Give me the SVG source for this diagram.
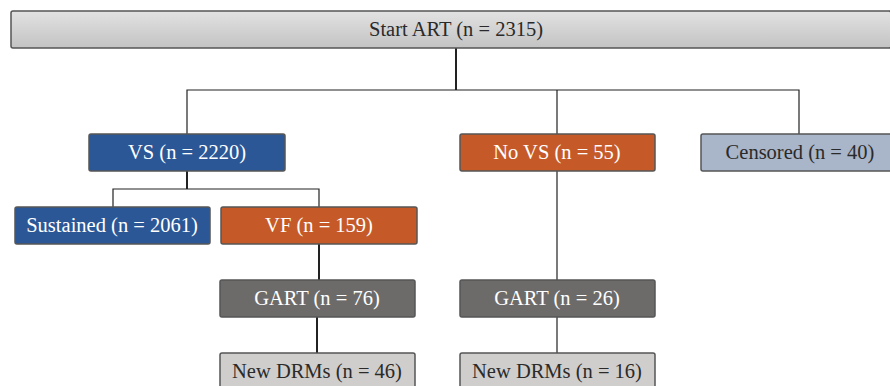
<svg xmlns="http://www.w3.org/2000/svg" width="890" height="386" viewBox="0 0 890 386">
<defs>
<linearGradient id="gTop" x1="0" y1="0" x2="0" y2="1">
<stop offset="0" stop-color="#e2e2e2"/>
<stop offset="1" stop-color="#c3c3c3"/>
</linearGradient>
<style>
.box{stroke:#555;stroke-width:1.5}
.t{font-family:"Liberation Serif",serif;font-size:20.5px;text-anchor:middle;dominant-baseline:central}
.w{fill:#fff}
.d{fill:#2a2a2a}
.c{fill:none;stroke:#222;stroke-width:1.2}
.thick{stroke-width:2}
</style>
</defs>
<rect width="890" height="386" fill="#fff"/>
<g id="connectors">
<path class="c thick" d="M456 48V90"/>
<path class="c" d="M187 134V90H799V134M557 90V134"/>
<path class="c thick" d="M187 171V189"/>
<path class="c" d="M113 207V189H319V207"/>
<path class="c thick" d="M319 244V280"/>
<path class="c thick" d="M317 317V353"/>
<path class="c" d="M557 171V280M557 317V353"/>
</g>
<g id="start">
<rect class="box" x="11" y="11" width="880" height="37" rx="2" fill="url(#gTop)"/>
<text class="t d" x="456" y="29">Start ART (n = 2315)</text>
</g>
<g id="vs">
<rect class="box" x="89" y="134" width="196" height="37" rx="2" fill="#2b5797"/>
<text class="t w" x="187" y="152">VS (n = 2220)</text>
</g>
<g id="novs">
<rect class="box" x="460" y="134" width="195" height="37" rx="2" fill="#c55a28"/>
<text class="t w" x="557" y="152">No VS (n = 55)</text>
</g>
<g id="censored">
<rect class="box" x="701" y="134" width="195" height="37" rx="2" fill="#a9b5c8"/>
<text class="t d" x="800" y="152">Censored (n = 40)</text>
</g>
<g id="sustained">
<rect class="box" x="15" y="207" width="195" height="37" rx="2" fill="#2b5797"/>
<text class="t w" x="112" y="225">Sustained (n = 2061)</text>
</g>
<g id="vf">
<rect class="box" x="221" y="207" width="196" height="37" rx="2" fill="#c55a28"/>
<text class="t w" x="319" y="225">VF (n = 159)</text>
</g>
<g id="gart76">
<rect class="box" x="220" y="280" width="195" height="37" rx="2" fill="#6d6b6a"/>
<text class="t w" x="317" y="298">GART (n = 76)</text>
</g>
<g id="gart26">
<rect class="box" x="460" y="280" width="195" height="37" rx="2" fill="#6d6b6a"/>
<text class="t w" x="557" y="298">GART (n = 26)</text>
</g>
<g id="drm46">
<rect class="box" x="220" y="353" width="195" height="37" rx="2" fill="#d0cecc"/>
<text class="t d" x="317" y="371">New DRMs (n = 46)</text>
</g>
<g id="drm16">
<rect class="box" x="460" y="353" width="195" height="37" rx="2" fill="#d0cecc"/>
<text class="t d" x="557" y="371">New DRMs (n = 16)</text>
</g>
</svg>
